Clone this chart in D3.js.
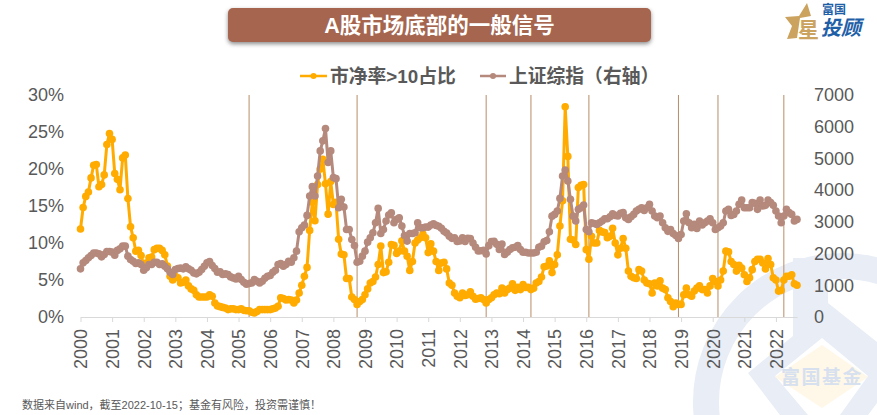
<!DOCTYPE html>
<html>
<head>
<title>A股市场底部的一般信号</title>
<meta charset="utf-8">
<style>
html, body { margin: 0; padding: 0; background: #fff; overflow: hidden; }
svg { display: block; }
text { font-family: "Liberation Sans", Arial, "Noto Sans CJK SC", sans-serif; }
.cjk { font-family: "Liberation Sans", "Noto Sans CJK SC", sans-serif; }
.axis text { font-size: 18px; fill: #595959; }
.axis path, .axis line { stroke: #d9d9d9; }
</style>
</head>
<body>
<div id="chart"></div>
<script src="https://d3js.org/d3.v7.min.js"></script>
<script>

// 市净率>10占比 (%), monthly from 2000-01
var pbShare = [
  11.9,14.8,16.3,16.9,18.8,20.5,20.6,17.6,17.9,19.2,23.3,24.8,
  24,19.4,18.6,17.2,21.5,21.9,16,12.2,10.7,8.9,9,8.3,
  7.1,7.3,8,8.1,9.1,9.3,9.3,9,8.4,6.9,5.5,5,
  5.5,5.3,4.6,4.7,5,4.2,3.8,3.6,3,2.7,2.7,2.7,
  2.7,3,2.8,1.9,1.5,1.4,1.3,1.2,1,1.1,1.1,1,
  1,1.1,.9,.85,.85,.65,.55,.75,1,1,1,1,
  1,1.1,1.2,1.45,2.6,2.5,2.3,2.35,2.3,1.9,2.3,3.25,
  4.3,5.5,6.7,11.7,15.5,13,17.9,20,21.3,18,13.9,18.3,
  15.2,15.5,10.5,8.5,8.4,5.2,5.2,2.7,2.35,1.7,2.1,2.35,
  3,3.8,4.6,4.8,5.4,7.1,9.6,6,6.1,7.4,9.8,9.7,
  8.6,8.9,10.3,8.9,8.2,6.3,7.5,10,10.4,10.7,11.2,10.7,
  8.7,9.9,8.9,7.5,6.3,7.3,7.4,6.5,4.6,4.3,3.25,2.8,
  2.6,3.25,2.9,3,3.4,2.8,2.4,2.5,2.6,2.35,1.9,2.35,
  2.6,3,3.25,3.15,3.9,3.25,3.7,3.9,4.5,3.6,4,3.7,
  4.4,4,4,3.7,3.9,4.6,4.8,5.4,6.8,6.9,7.6,6,
  7.1,8.4,12.3,15.7,28.4,21.7,10.5,10.4,9.8,17.5,17.8,17.9,
  9.1,7.8,10.9,10,10,11.7,11.5,11.4,10.7,10.9,12,10,
  8.4,9.3,10.6,9.3,6.2,5.5,5.3,5.2,6.4,6.2,5,4.6,
  4.5,3.25,4.6,4.2,4.9,3.9,3.7,2.6,2.1,1.4,1.9,1.7,
  1.7,3,3.9,3,2.8,3.5,3.9,4.2,3.7,3.7,3.25,4.2,
  5.2,4.8,4.2,5,6.2,8.9,8.8,7.5,7.1,6.2,7,6.6,
  5.7,4.8,5.3,6.4,7.5,7.8,7.8,7.3,6.5,7.9,7.1,5.3,
  5,3.5,3.6,5,5.5,5.5,5.7,4.5,4.3
];

// 上证综指, same months
var sseIndex = [
  1518,1707,1780,1865,1940,2020,2020,1990,1897,1970,2065,2065,
  2045,1950,2100,2150,2234,2234,1918,1813,1760,1686,1707,1655,
  1476,1550,1655,1655,1728,1728,1655,1676,1602,1518,1412,1340,
  1497,1528,1540,1518,1580,1518,1476,1391,1360,1412,1497,1600,
  1707,1750,1623,1528,1412,1423,1340,1360,1340,1265,1233,1200,
  1286,1180,1096,1033,1054,1075,1180,1128,1075,1128,1223,1286,
  1307,1412,1476,1655,1686,1602,1655,1760,1730,1866,2076,2688,
  2814,2900,3204,3815,4110,3815,4448,5238,5555,5945,4870,5238,
  4395,4363,3447,3710,3468,2761,2761,2445,2255,1728,1760,1918,
  2076,2360,2498,2656,2972,3425,2635,2761,3025,3215,3288,2972,
  3078,3130,2867,2572,2393,2635,2635,2656,2972,2814,2814,2835,
  2835,2900,2940,2888,2860,2800,2700,2650,2550,2480,2500,2380,
  2400,2500,2380,2480,2470,2330,2200,2080,2090,2100,1990,2250,
  2380,2390,2290,2130,2300,1970,2045,2130,2180,2200,2255,2130,
  2040,2040,2020,2020,2020,2040,2200,2234,2370,2410,2690,3180,
  3235,3340,3740,4447,4637,4290,3710,3180,3025,3394,3447,3530,
  2760,2688,2970,2950,2920,2970,3025,3100,3100,3160,3257,3204,
  3183,3267,3290,3130,3078,3160,3235,3340,3394,3447,3360,3447,
  3550,3340,3183,3130,3183,2972,2814,2700,2760,2635,2570,2477,
  2600,3025,3257,2970,2814,2920,2793,3025,2900,2972,3025,3100,
  2972,2760,2814,2867,2972,3340,3394,3204,3235,3340,3552,3690,
  3447,3447,3447,3605,3583,3394,3690,3500,3520,3690,3605,3520,
  3340,3183,2972,3183,3394,3290,3235,3025,3078
];

var yearLabels = d3.range(2000, 2023).map(String);
var leftTicks = [0, 5, 10, 15, 20, 25, 30];
var rightTicks = [0, 1000, 2000, 3000, 4000, 5000, 6000, 7000];
// months (index into the series) where a bottom signal line is drawn
var signalMonths = [64, 105, 154, 171, 193, 227, 242, 267];

var width = 877, height = 415;
var plotLeft = 80.5, plotRight = 797, plotTop = 95, plotBottom = 317;
var orange = "#FFAB00", brown = "#B5897C", signalColor = "#B88C66";

var svg = d3.select("#chart").append("svg")
    .attr("width", width)
    .attr("height", height);

var x = d3.scaleLinear().domain([0, pbShare.length - 1]).range([plotLeft, plotRight]);
var yLeft = d3.scaleLinear().domain([0, 30]).range([plotBottom, plotTop]);
var yRight = d3.scaleLinear().domain([0, 7000]).range([plotBottom, plotTop]);

// watermark behind everything
var mark = svg.append("g");
mark.append("circle")
    .attr("cx", 842).attr("cy", 402).attr("r", 136)
    .attr("fill", "none").attr("stroke", "#E8EDF6").attr("stroke-width", 26);
mark.append("path")
    .attr("d", "M793,258L793,336L748,373L780,415L808,415L775,376L822,338L868,376L840,415L868,415L877,403L877,342L828,303L828,258Z")
    .attr("fill", "#E8EDF6");
mark.append("path")
    .attr("d", "M822,345L868,377L822,408L775,377Z")
    .attr("fill", "#FFF8E8");
mark.append("text")
    .attr("class", "cjk")
    .attr("x", 822).attr("y", 384)
    .attr("text-anchor", "middle")
    .attr("font-size", 19).attr("font-weight", "bold")
    .attr("letter-spacing", 1.5)
    .attr("fill", "#D6E0EF")
    .text("富国基金");

// title banner
svg.append("rect")
    .attr("x", 228).attr("y", 8).attr("width", 423).attr("height", 34).attr("rx", 5)
    .attr("fill", "#A5654E")
    .style("filter", "drop-shadow(0px 2px 2px rgba(0,0,0,0.45))");
svg.append("text")
    .attr("class", "cjk")
    .attr("x", 439.5).attr("y", 33)
    .attr("text-anchor", "middle")
    .attr("font-size", 21.5).attr("font-weight", "bold")
    .attr("fill", "#fff")
    .text("A股市场底部的一般信号");

// logo
var logo = svg.append("g");
logo.append("path")
    .attr("d", "M807,3L811,16L800,18L797,38L787,39L792,26L785,17L799,16Z")
    .attr("fill", "#CBA35F");
logo.append("text")
    .attr("class", "cjk")
    .attr("x", 798).attr("y", 37)
    .attr("font-size", 21).attr("font-weight", "bold")
    .attr("fill", "#CBA35F")
    .text("星");
logo.append("text")
    .attr("class", "cjk")
    .attr("x", 822).attr("y", 14)
    .attr("font-size", 12).attr("font-weight", "bold")
    .attr("fill", "#1F5FA8")
    .text("富国");
logo.append("text")
    .attr("class", "cjk")
    .attr("x", 821).attr("y", 35)
    .attr("font-size", 20).attr("font-weight", "bold").attr("font-style", "italic")
    .attr("fill", "#1F5FA8")
    .text("投顾");

// legend
var legendItems = [
  {label: "市净率>10占比", color: orange, x0: 300, x1: 327, tx: 330},
  {label: "上证综指（右轴）", color: brown, x0: 480, x1: 506, tx: 509}
];
var legend = svg.selectAll(".legend").data(legendItems).enter().append("g").attr("class", "legend");
legend.append("line")
    .attr("x1", function(d) { return d.x0; })
    .attr("x2", function(d) { return d.x1; })
    .attr("y1", 76).attr("y2", 76)
    .attr("stroke", function(d) { return d.color; })
    .attr("stroke-width", 2.5);
legend.append("circle")
    .attr("cx", function(d) { return (d.x0 + d.x1) / 2; })
    .attr("cy", 76).attr("r", 3)
    .attr("fill", function(d) { return d.color; });
legend.append("text")
    .attr("class", "cjk")
    .attr("x", function(d) { return d.tx; })
    .attr("y", 83)
    .attr("font-size", 18.8).attr("font-weight", "bold")
    .attr("fill", "#595959")
    .text(function(d) { return d.label; });

// axes
svg.append("g")
    .attr("class", "axis")
    .attr("transform", "translate(0," + plotBottom + ")")
    .call(d3.axisBottom(x)
      .tickValues(yearLabels.map(function(d, i) { return i * 12; }))
      .tickSize(5)
      .tickSizeOuter(0)
      .tickFormat(function(d) { return yearLabels[d / 12]; }))
    .selectAll("text")
      .attr("transform", "rotate(-90)")
      .attr("x", -12)
      .attr("y", 0)
      .attr("dy", "0.35em")
      .style("text-anchor", "end");

svg.append("g")
    .attr("class", "axis")
    .attr("transform", "translate(64,0)")
    .call(d3.axisLeft(yLeft).tickValues(leftTicks).tickSize(0).tickPadding(0)
      .tickFormat(function(d) { return d + "%"; }))
    .call(function(g) { g.select(".domain").remove(); });

svg.append("g")
    .attr("class", "axis")
    .attr("transform", "translate(814,0)")
    .call(d3.axisRight(yRight).tickValues(rightTicks).tickSize(0).tickPadding(0)
      .tickFormat(d3.format("d")))
    .call(function(g) { g.select(".domain").remove(); });

// signal lines
svg.selectAll(".signal")
    .data(signalMonths)
  .enter().append("line")
    .attr("class", "signal")
    .attr("x1", function(d) { return x(d); })
    .attr("x2", function(d) { return x(d); })
    .attr("y1", yLeft(30))
    .attr("y2", plotBottom)
    .attr("stroke", signalColor)
    .attr("stroke-width", 1);

function drawSeries(values, yScale, color) {
  var line = d3.line()
      .x(function(d, i) { return x(i); })
      .y(function(d) { return yScale(d); });
  svg.append("path")
      .datum(values)
      .attr("fill", "none")
      .attr("stroke", color)
      .attr("stroke-width", 3)
      .attr("stroke-linejoin", "round")
      .attr("d", line);
  svg.append("g").selectAll("circle")
      .data(values)
    .enter().append("circle")
      .attr("cx", function(d, i) { return x(i); })
      .attr("cy", function(d) { return yScale(d); })
      .attr("r", 3.8)
      .attr("fill", color);
}

drawSeries(pbShare, yLeft, orange);
drawSeries(sseIndex, yRight, brown);

// source note
svg.append("text")
    .attr("class", "cjk")
    .attr("x", 22).attr("y", 409)
    .attr("font-size", 11)
    .attr("fill", "#595959")
    .text("数据来自wind，截至2022-10-15；基金有风险，投资需谨慎！");

</script>
</body>
</html>
